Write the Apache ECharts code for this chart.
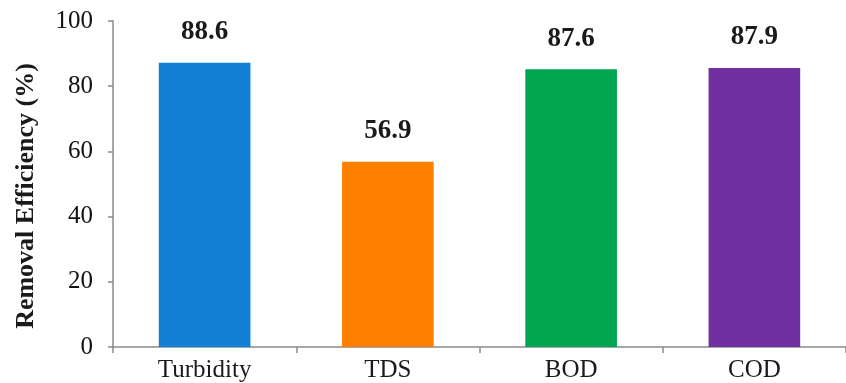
<!DOCTYPE html>
<html>
<head>
<meta charset="utf-8">
<script src="https://cdn.jsdelivr.net/npm/echarts@6/dist/echarts.min.js"></script>
<style>
html,body{margin:0;padding:0;background:#fff;}
#chart{width:846px;height:383px;}
</style>
</head>
<body>
<div id="chart"></div>
<script>
const categories = ['Turbidity', 'TDS', 'BOD', 'COD'];
const barValues = [87.2, 56.8, 85.2, 85.6];
const labelTexts = ['88.6', '56.9', '87.6', '87.9'];
const barColors = ['#127FD6', '#FF8000', '#00A650', '#7030A0'];
const yTicks = [0, 20, 40, 60, 80, 100];
const yAxisTitle = 'Removal Efficiency (%)';

const serif = 'Liberation Serif';
const chart = echarts.init(document.getElementById('chart'));
chart.setOption({
  animation: false,
  backgroundColor: '#ffffff',
  grid: { left: 113, right: -7, top: 21, bottom: 36, containLabel: false },
  xAxis: {
    type: 'category',
    data: categories,
    axisLine: { lineStyle: { color: '#8a8a8a', width: 1.5 } },
    axisTick: { show: true, length: 6, lineStyle: { color: '#8a8a8a', width: 1.5 } },
    axisLabel: { fontFamily: serif, fontSize: 25, color: '#1a1a1a', margin: 11 }
  },
  yAxis: {
    type: 'value',
    min: yTicks[0],
    max: yTicks[yTicks.length - 1],
    interval: 20,
    name: yAxisTitle,
    nameLocation: 'middle',
    nameRotate: 90,
    nameGap: 74,
    nameTextStyle: { fontFamily: serif, fontSize: 26, fontWeight: 'bold', color: '#1a1a1a', padding: [0, 24, 0, 0] },
    splitLine: { show: false },
    axisLine: { show: true, lineStyle: { color: '#8a8a8a', width: 1.5 } },
    axisTick: { show: true, length: 5, lineStyle: { color: '#8a8a8a', width: 1.5 } },
    axisLabel: { fontFamily: serif, fontSize: 25, color: '#111', margin: 20 }
  },
  series: [{
    type: 'bar',
    barWidth: '50%',
    data: barValues.map((v, i) => ({ value: v, itemStyle: { color: barColors[i] } })),
    label: {
      show: true,
      position: 'top',
      distance: 17,
      fontFamily: serif,
      fontSize: 27,
      fontWeight: 'bold',
      color: '#1a1a1a',
      formatter: p => labelTexts[p.dataIndex]
    }
  }]
});
</script>
</body>
</html>
